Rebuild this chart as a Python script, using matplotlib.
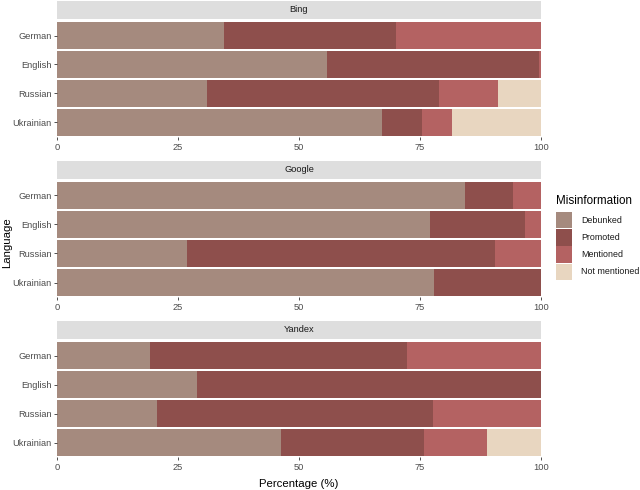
import matplotlib
matplotlib.use("Agg")
import matplotlib.pyplot as plt
from matplotlib.patches import Rectangle
import numpy as np

plt.rcParams['font.family'] = ['Liberation Sans', 'DejaVu Sans']

engines = ["Bing", "Google", "Yandex"]
languages = ["German", "English", "Russian", "Ukrainian"]
categories = ["Debunked", "Promoted", "Mentioned", "Not mentioned"]
colors = ["#a58a7e", "#8e4f4c", "#b46262", "#e8d6c0"]

# values per engine, rows = languages, columns = categories (percent)
bing = [
    [34.5, 35.5, 30.0, 0.0],
    [55.8, 43.8, 0.4, 0.0],
    [31.0, 47.9, 12.3, 8.8],
    [67.1, 8.3, 6.3, 18.3],
]
google = [
    [84.3, 10.0, 5.7, 0.0],
    [77.0, 19.7, 3.3, 0.0],
    [26.8, 63.7, 9.5, 0.0],
    [77.8, 22.2, 0.0, 0.0],
]
yandex = [
    [19.2, 53.1, 27.7, 0.0],
    [28.9, 71.1, 0.0, 0.0],
    [20.7, 56.9, 22.4, 0.0],
    [46.2, 29.7, 12.9, 11.2],
]
data = {"Bing": bing, "Google": google, "Yandex": yandex}

W, H = 640, 490
fig = plt.figure(figsize=(W / 100, H / 100), dpi=100)

def fx(px):
    return px / W

def fy(py):
    return 1 - py / H

x0, x1 = 57, 541
strip_tops = [1, 161, 321]
bar_tops = [21, 181, 341]
bar_bots = [137, 297, 457]

tick_fs = 6.7
for i, eng in enumerate(engines):
    vals = np.array(data[eng])
    ax = fig.add_axes([fx(x0), fy(bar_bots[i]), fx(x1 - x0), (bar_bots[i] - bar_tops[i]) / H])
    ypos = np.arange(len(languages))
    left = np.zeros(len(languages))
    for j, cat in enumerate(categories):
        ax.barh(ypos, vals[:, j], left=left, height=0.93, color=colors[j],
                edgecolor='none', linewidth=0)
        left += vals[:, j]
    ax.set_xlim(0, 100)
    ax.set_ylim(len(languages) - 0.5, -0.5)
    ax.set_yticks(ypos)
    ax.set_yticklabels(languages)
    ax.set_xticks([0, 25, 50, 75, 100])
    ax.set_xticklabels(["0", "25", "50", "75", "100"])
    ax.tick_params(axis='both', labelsize=tick_fs, colors='#333333', labelcolor='#4d4d4d',
                   length=2.5, width=0.6, pad=1.5)
    for s in ax.spines.values():
        s.set_visible(False)
    # strip
    sax = fig.add_axes([fx(x0), fy(strip_tops[i] + 18), fx(x1 - x0), 18 / H])
    sax.set_facecolor('#dedede')
    sax.set_xticks([])
    sax.set_yticks([])
    for s in sax.spines.values():
        s.set_visible(False)
    sax.text(0.5, 0.5, eng, ha='center', va='center', fontsize=tick_fs, color='#1a1a1a',
             transform=sax.transAxes)

fig.text(fx((x0 + x1) / 2), fy(484), "Percentage (%)", ha='center', va='center', fontsize=8.2,
         color='#000000')
fig.text(fx(7), fy(243), "Language", ha='center', va='center', rotation=90, fontsize=8.2,
         color='#000000')

# legend (drawn in figure space)
fig.text(fx(556), fy(201), "Misinformation", ha='left', va='center', fontsize=8.4, color='#000000')
key_top = 212
key_h = 16.5
key_step = 17.2
for k, (c, lab) in enumerate(zip(colors, categories)):
    top = key_top + k * key_step
    fig.patches.append(Rectangle((fx(556), fy(top + key_h)), fx(16), key_h / H,
                                 facecolor=c, edgecolor='none', transform=fig.transFigure,
                                 figure=fig))
    fig.text(fx(581), fy(top + key_h / 2), lab, ha='left', va='center', fontsize=6.4,
             color='#1a1a1a')

fig.savefig("out.png", dpi=100)
